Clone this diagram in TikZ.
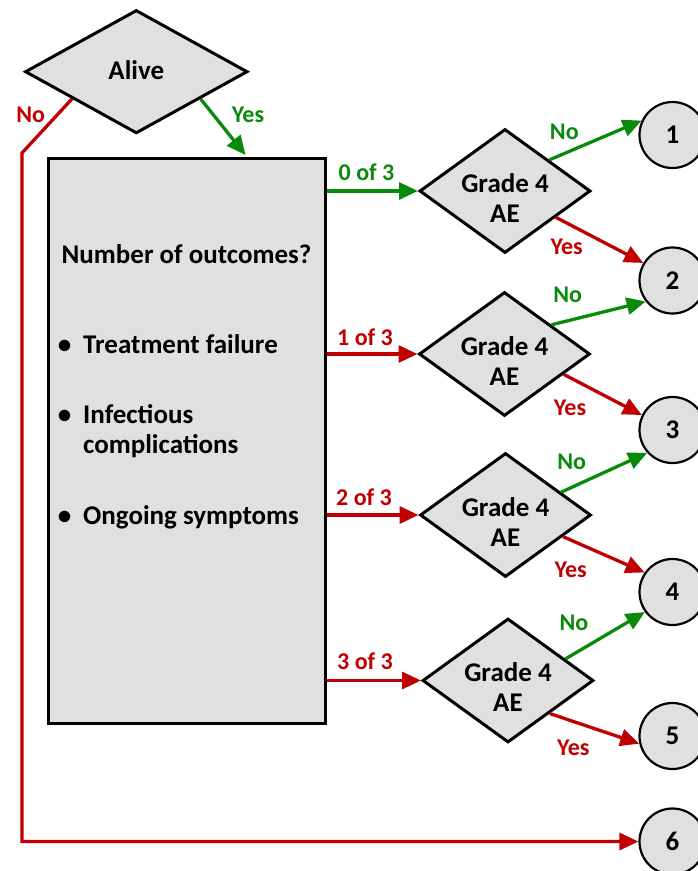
\documentclass[tikz,border=0pt]{standalone}
\usepackage{fontspec}
\setmainfont{Carlito}
\usetikzlibrary{shapes.geometric,arrows.meta,calc}
\definecolor{ogreen}{HTML}{0A8A0A}
\definecolor{ored}{HTML}{C00000}
\definecolor{boxgray}{HTML}{E0E0E0}
\tikzset{
  dia/.style={diamond, draw=black, fill=boxgray, line width=3pt, inner sep=0pt,
              minimum width=171pt, minimum height=124pt},
  bigfont/.style={font=\fontsize{27}{30}\selectfont\bfseries},
  diatext/.style={bigfont, align=center, inner sep=0pt},
  plain/.style={bigfont, inner sep=0pt},
  circ/.style={circle, draw=black, fill=boxgray, line width=2.2pt, minimum size=66pt,
               inner sep=0pt, bigfont},
  arr/.style={line width=3.3pt, -{Triangle[length=19pt,width=17pt]}},
  garr/.style={arr, color=ogreen},
  rarr/.style={arr, color=ored},
  lbl/.style={font=\fontsize{24}{28}\selectfont\bfseries, inner sep=0pt},
  glbl/.style={lbl, text=ogreen},
  rlbl/.style={lbl, text=ored}
}
\begin{document}
\begin{tikzpicture}[x=1pt,y=-1pt]
\useasboundingbox (0,0) rectangle (698,871);
\clip (0,0) rectangle (698,871);

% main shapes
\node[dia, minimum width=222.6pt, minimum height=123.4pt] (alive) at (136.3,71.7) {};
\node[plain, anchor=base] (alivet) at (136.3,79.3) {Alive};

\node[draw=black, fill=boxgray, line width=3pt, minimum width=277.5pt,
      minimum height=565pt, inner sep=0pt] (box) at (186.75,440.5) {};

\node[plain, anchor=base west] (t0) at (61.5,263) {Number of outcomes?};
\node[plain, anchor=base] (b1) at (64.5,353) {•};
\node[plain, anchor=base west] (t1) at (83,353) {Treatment failure};
\node[plain, anchor=base] (b2) at (64.5,423) {•};
\node[plain, anchor=base west] (t2) at (83,423) {Infectious};
\node[plain, anchor=base west] (t2b) at (83,453) {complications};
\node[plain, anchor=base] (b3) at (64.5,524) {•};
\node[plain, anchor=base west] (t3) at (83,524) {Ongoing symptoms};

\node[dia] (d1) at (505,191) {};
\node[dia] (d2) at (504.5,354) {};
\node[dia] (d3) at (505.5,515) {};
\node[dia] (d4) at (508,680.5) {};
\node[diatext] (d1t) at (505,198) {Grade 4\\AE};
\node[diatext] (d2t) at (504.5,361) {Grade 4\\AE};
\node[diatext] (d3t) at (505.5,522) {Grade 4\\AE};
\node[diatext] (d4t) at (508,687.5) {Grade 4\\AE};

\node[circ] (c1) at (672.5,135) {1};
\node[circ] (c2) at (672.5,280.5) {2};
\node[circ] (c3) at (672.5,430) {3};
\node[circ] (c4) at (672.5,592) {4};
\node[circ] (c5) at (672.5,736) {5};
\node[circ] (c6) at (672.5,841.5) {6};

\coordinate (yesend) at (245.5,155);
\coordinate (nobend) at (22,153);

% connectors from Alive
\draw[garr] ($(alive.east)!0.43!(alive.south)$) -- (yesend);
\draw[rarr] ($(alive.west)!0.43!(alive.south)$) -- (nobend) |- (c6.west);
\node[glbl] (lyes) at (248,115) {Yes};
\node[rlbl] (lno) at (30.7,115) {No};

% box to diamonds
\draw[garr] (d1.west -| box.east) -- (d1.west);
\draw[rarr] (d2.west -| box.east) -- (d2.west);
\draw[rarr] (d3.west -| box.east) -- (d3.west);
\draw[rarr] (d4.west -| box.east) -- (d4.west);
\node[glbl] (l0) at (366.5,172.5) {0 of 3};
\node[rlbl] (l1) at (365,337) {1 of 3};
\node[rlbl] (l2) at (364,497) {2 of 3};
\node[rlbl] (l3) at (365,661) {3 of 3};

% diamonds to circles
\draw[garr] ($(d1.east)!0.49!(d1.north)$) -- (c1.155);
\draw[rarr] ($(d1.east)!0.415!(d1.south)$) -- (c2.149);
\draw[garr] ($(d2.east)!0.46!(d2.north)$) -- (c2.218);
\draw[rarr] ($(d2.east)!0.32!(d2.south)$) -- (c3.154);
\draw[garr] ($(d3.east)!0.36!(d3.north)$) -- (c3.222);
\draw[rarr] ($(d3.east)!0.34!(d3.south)$) -- (c4.145);
\draw[garr] ($(d4.east)!0.34!(d4.north)$) -- (c4.216);
\draw[rarr] ($(d4.east)!0.52!(d4.south)$) -- (c5.193);

\node[glbl] (n1) at (564.3,132.3) {No};
\node[rlbl] (y1) at (566.7,246.7) {Yes};
\node[glbl] (n2) at (567.7,295) {No};
\node[rlbl] (y2) at (570,408) {Yes};
\node[glbl] (n3) at (571.7,461.7) {No};
\node[rlbl] (y3) at (570.7,569.3) {Yes};
\node[glbl] (n4) at (574,622.7) {No};
\node[rlbl] (y4) at (573.3,747.3) {Yes};
\end{tikzpicture}
\end{document}
